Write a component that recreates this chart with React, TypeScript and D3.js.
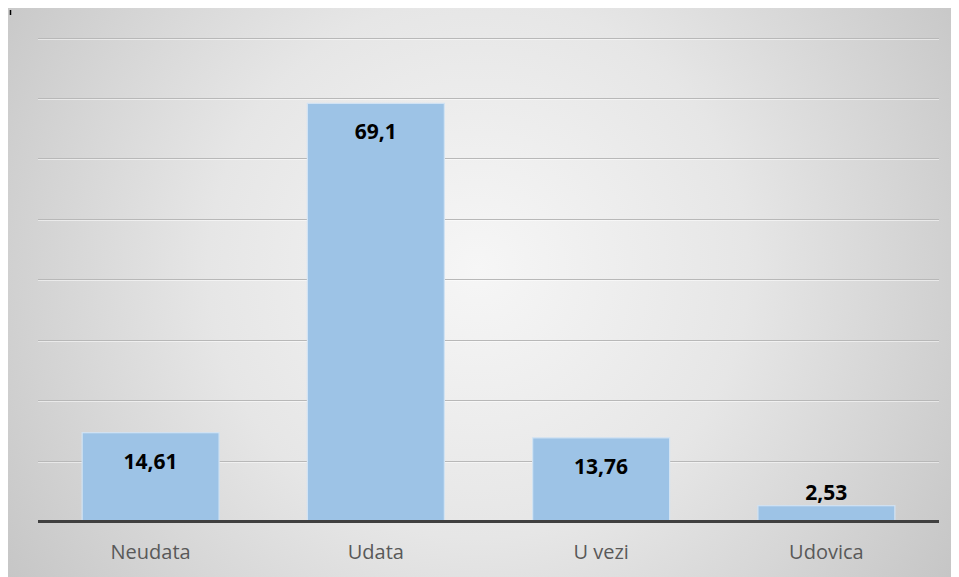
import React from "react";
import * as d3 from "d3";

const categories = ["Neudata", "Udata", "U vezi", "Udovica"];
const values = [14.61, 69.1, 13.76, 2.53];
const valueLabels = ["14,61", "69,1", "13,76", "2,53"];
const gridTicks = [10, 20, 30, 40, 50, 60, 70, 80];

export default function App() {
  const W = 951;
  const H = 569;
  const x = d3
    .scaleBand<string>()
    .domain(categories)
    .range([30, 931])
    .paddingInner(0.392)
    .paddingOuter(0.196);
  const y = d3.scaleLinear().domain([0, 80]).range([513, 29.5]);

  return (
    <svg width={W} height={H} style={{ display: "block" }}>
      <defs>
        <radialGradient id="bg" gradientUnits="userSpaceOnUse" cx={470} cy={260} r={600}>
          <stop offset="0" stopColor="#f6f6f6" />
          <stop offset="0.45" stopColor="#e6e6e6" />
          <stop offset="1" stopColor="#c2c2c2" />
        </radialGradient>
      </defs>
      <rect x={0} y={0} width={W} height={H} fill="url(#bg)" />
      <line x1={2.5} x2={2.5} y1={2} y2={7} stroke="#000" strokeWidth={1.5} />
      {gridTicks.map((t) => (
        <g key={t}>
          <line x1={30} x2={931} y1={Math.round(y(t)) + 0.5} y2={Math.round(y(t)) + 0.5} stroke="#b8b8b8" strokeWidth={1} />
          <line x1={30} x2={931} y1={Math.round(y(t)) + 1.5} y2={Math.round(y(t)) + 1.5} stroke="#ffffff" strokeOpacity={0.5} strokeWidth={1} />
        </g>
      ))}
      {categories.map((c, i) => {
        const bx = x(c)!;
        const bw = x.bandwidth();
        const top = y(values[i]);
        const h = y(0) - top;
        const inside = h > 40;
        return (
          <g key={c}>
            <rect x={bx} y={top} width={bw} height={h} fill="#9dc3e6" stroke="#d2e3f3" strokeWidth={1.2} />
            <text
              x={bx + bw / 2}
              y={inside ? top + 36 : top - 6}
              textAnchor="middle"
              fontFamily="'Open Sans', 'Liberation Sans', sans-serif"
              fontWeight="bold"
              fontSize={21}
              fill="#000"
            >
              {valueLabels[i]}
            </text>
            <text
              x={bx + bw / 2}
              y={551}
              textAnchor="middle"
              fontFamily="'Open Sans', 'Liberation Sans', sans-serif"
              fontSize={20}
              fill="#595959"
            >
              {c}
            </text>
          </g>
        );
      })}
      <line x1={30} x2={931} y1={y(0) + 0.5} y2={y(0) + 0.5} stroke="#404040" strokeWidth={3} />
    </svg>
  );
}
